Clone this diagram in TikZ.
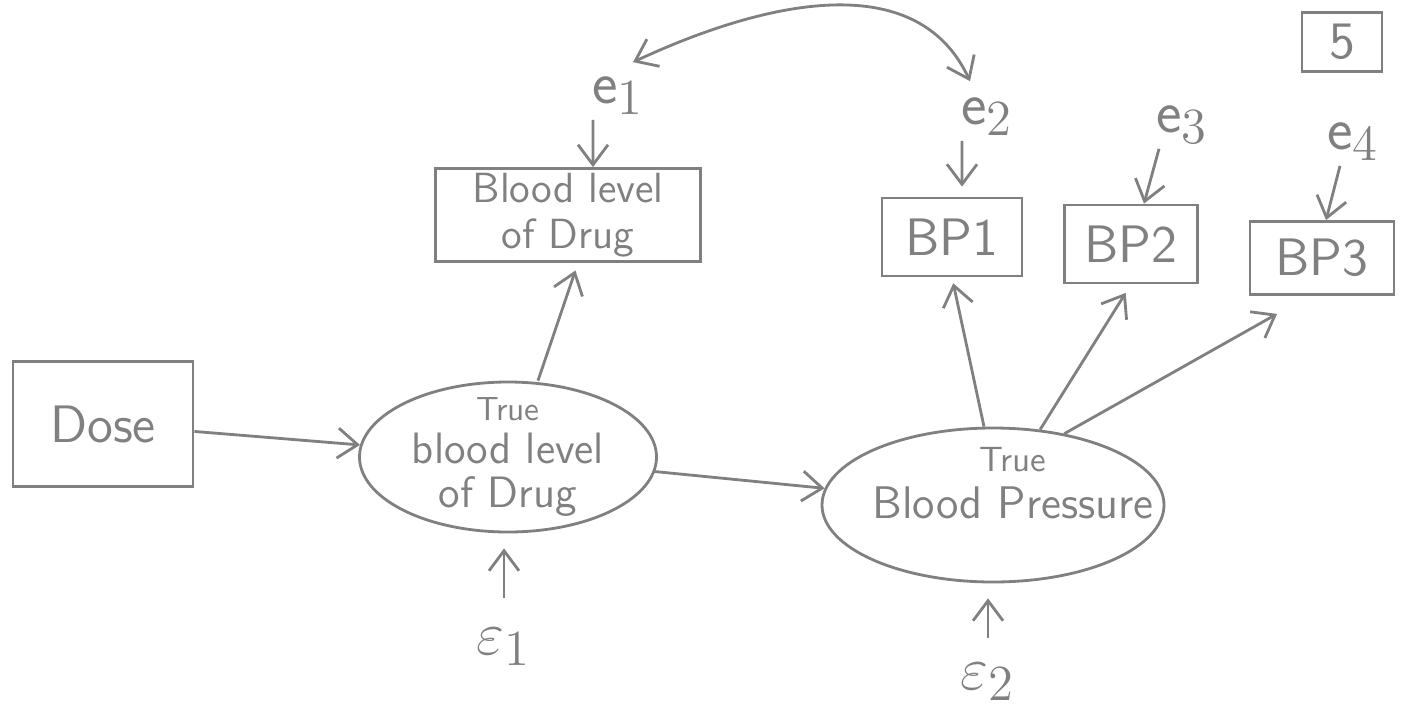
\documentclass[tikz,border=0pt]{standalone}
\usepackage{amsmath,amssymb}
\usepackage{xcolor}
\usepackage{tikz}
\usetikzlibrary{arrows.meta,shapes.geometric}
\definecolor{pencil}{RGB}{128,128,128}

\begin{document}
\begin{tikzpicture}[
  box/.style={draw, minimum width=1.4cm, minimum height=0.78cm, inner sep=0pt,
    font=\fontsize{15}{17}\selectfont\sffamily},
  latent/.style={draw, ellipse, inner sep=0pt},
  err/.style={inner sep=1pt, font=\fontsize{19}{21}\selectfont},
  ->,>={Straight Barb[length=2mm,width=3mm]},color=pencil,line width=0.8pt
]
\useasboundingbox (0,0) rectangle (14.06,7.15);

\node[box, minimum width=1.8cm, minimum height=1.25cm] (dose) at (1.03,2.91) {Dose};
\node[box, minimum width=2.65cm, minimum height=0.93cm, align=center,
  font=\fontsize{12}{13}\selectfont\sffamily] (level) at (5.68,5.00) {Blood level\\of Drug};
\node[box] (bp1) at (9.52,4.78) {BP1};
\node[box, minimum width=1.33cm] (bp2) at (11.31,4.71) {BP2};
\node[box, minimum width=1.44cm, minimum height=0.73cm] (bp3) at (13.22,4.57) {BP3};
\node[box, minimum width=0.8cm, minimum height=0.59cm] (page) at (13.42,6.73) {5};

\node[latent, minimum width=2.97cm, minimum height=1.5cm,
  label={[align=center, font=\fontsize{12.5}{12.5}\selectfont\sffamily]center:{\fontsize{9.5}{11}\selectfont True}\\blood level\\of Drug}]
  (truelevel) at (5.08,2.58) {};
\node[latent, minimum width=3.42cm, minimum height=1.54cm,
  label={[align=center, font=\fontsize{13}{13.5}\selectfont\sffamily, xshift=2mm, yshift=2.2mm]center:{\fontsize{10}{13}\selectfont True}\\Blood Pressure}]
  (truebp) at (9.93,2.10) {};

\node[err] (e1) at (6.18,6.19) {$\mathsf{e}_1$};
\node[err] (e2) at (9.87,5.98) {$\mathsf{e}_2$};
\node[err] (e3) at (11.82,5.90) {$\mathsf{e}_3$};
\node[err] (e4) at (13.53,5.73) {$\mathsf{e}_4$};
\node[err] (eps1) at (5.04,0.68) {$\varepsilon_1$};
\node[err] (eps2) at (9.88,0.33) {$\varepsilon_2$};

\draw (dose) -- (truelevel);
\draw (truelevel) -- (truebp);
\draw[shorten >=0.8mm] ([xshift=3mm]truelevel.north) -- ([xshift=1mm]level.south);
\draw ([xshift=-2.5mm]e1.south) -- ([xshift=2.5mm]level.north);
\draw[shorten >=1mm] ([xshift=-2.5mm]e2.south) -- ([xshift=1mm]bp1.north);
\draw ([xshift=-2.3mm]e3.south) -- ([xshift=1.3mm]bp2.north);
\draw ([xshift=-1.3mm]e4.south) -- ([xshift=0.4mm]bp3.north);
\draw[shorten <=2.5mm, shorten >=1.5mm] (eps1) -- (eps1 |- truelevel.south);
\draw[shorten <=2mm, shorten >=1.5mm] (eps2) -- (eps2 |- truebp.south);
\draw[shorten >=0.6mm] ([xshift=-0.9mm]truebp.north) -- (bp1.south);
\draw[shorten >=1mm] (truebp.58) -- (bp2.south);
\draw (truebp.45) -- ([shift={(-0.45,-0.18)}]bp3.south);
\draw[<->] ([xshift=1.5mm,yshift=1mm]e1.north) to[out=25,in=115] ([xshift=-1.7mm,yshift=1.2mm]e2.north);
\end{tikzpicture}
\end{document}
